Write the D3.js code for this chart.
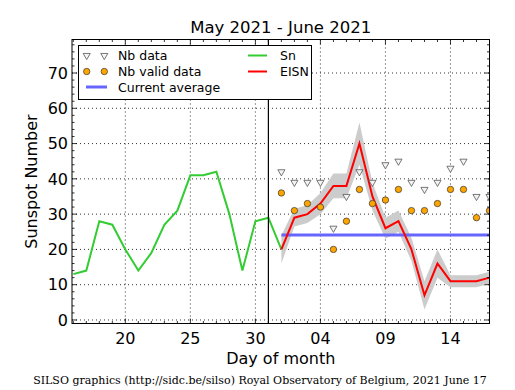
<!DOCTYPE html>
<html><head><meta charset="utf-8">
<script src="https://cdn.jsdelivr.net/npm/d3@7"></script>
<style>body{margin:0;background:#fff}svg{display:block}</style>
</head><body>
<script>
// ---- data ----
const snStart = "2021-05-16";
const snValues = [13,14,28,27,20,14,19,27,31,41,41,42,30,14,28,29,20];
const eisnStart = "2021-06-01";
const eisnValues = [20,29,30,33,38,38,50,35,26,28,20,7,16,11,11,11,12];
const eisnError = [4,2.5,2.5,3,3.5,3.5,6,4,3,3,3.3,4,4,1.7,1.7,1.7,1.7];
const nbData = [42,39,39,39,26,35,42,39,44,45,39,37,39,43,45,35,35];
const nbValid = [36,31,33,32,20,28,37,33,34,37,31,31,33,37,37,29,31];
const currentAverage = 24.1;
const yTicks = [0,10,20,30,40,50,60,70];
const xTickDays = ["2021-05-20","2021-05-25","2021-05-30","2021-06-04","2021-06-09","2021-06-14"];
const monthBoundary = "2021-05-31";
const titleText = "May 2021 - June 2021";
const footerText = "SILSO graphics (http://sidc.be/silso) Royal Observatory of Belgium, 2021 June 17";

const W = 515, H = 390;
const L = 72, R = 489.5, T = 39.5, B = 323.5;
const DAY = 864e5;
const parse = s => new Date(s + "T00:00:00Z");
const dayAt = (start, i) => new Date(parse(start).getTime() + i*DAY);

const x = d3.scaleUtc().domain([new Date(parse("2021-05-16").getTime() - 0.1*DAY), parse("2021-06-17")]).range([L, R]);
const y = d3.scaleLinear().domain([-1, 79.5]).range([B, T]);

const svg = d3.select("body").append("svg").attr("width", W).attr("height", H)
  .style("font-family", "DejaVu Sans");

svg.append("defs").append("clipPath").attr("id","clip").append("rect")
  .attr("x", L).attr("y", T).attr("width", R-L).attr("height", B-T);

// grid
const grid = svg.append("g").attr("stroke","#000").attr("stroke-width",0.8).attr("stroke-dasharray","1,3");
xTickDays.forEach(d => grid.append("line").attr("x1", x(parse(d))).attr("x2", x(parse(d))).attr("y1", T).attr("y2", B));
yTicks.forEach(v => grid.append("line").attr("x1", L).attr("x2", R).attr("y1", y(v)).attr("y2", y(v)));

const plot = svg.append("g").attr("clip-path","url(#clip)");

// band
const eisn = eisnValues.map((v,i) => ({d: dayAt(eisnStart,i), v, e: eisnError[i]}));
plot.append("path").datum(eisn)
  .attr("fill","#cccccc").attr("stroke","none")
  .attr("d", d3.area().x(d => x(d.d)).y0(d => y(d.v - d.e)).y1(d => y(d.v + d.e)));

// current average
plot.append("line").attr("x1", x(parse(eisnStart))).attr("x2", R)
  .attr("y1", y(currentAverage)).attr("y2", y(currentAverage))
  .attr("stroke","#6666ff").attr("stroke-width",3);

// Sn
const sn = snValues.map((v,i) => ({d: dayAt(snStart,i), v}));
plot.append("path").datum(sn).attr("fill","none").attr("stroke","#33cc33").attr("stroke-width",2)
  .attr("d", d3.line().x(d => x(d.d)).y(d => y(d.v)));

// EISN
plot.append("path").datum(eisn).attr("fill","none").attr("stroke","#ff0000").attr("stroke-width",2)
  .attr("d", d3.line().x(d => x(d.d)).y(d => y(d.v)));

// vertical month line
svg.append("line").attr("x1", x(parse(monthBoundary))).attr("x2", x(parse(monthBoundary)))
  .attr("y1", T).attr("y2", B).attr("stroke","#000").attr("stroke-width",1.2);

// markers
const tri = d3.symbol().type(d3.symbolTriangle).size(22);
plot.selectAll(".nb").data(nbData).join("path")
  .attr("d", tri)
  .attr("transform", (v,i) => `translate(${x(dayAt(eisnStart,i))},${y(v)}) rotate(180)`)
  .attr("fill","#f4f4f4").attr("stroke","#555").attr("stroke-width",0.8);
plot.selectAll(".nv").data(nbValid).join("circle")
  .attr("cx", (v,i) => x(dayAt(eisnStart,i))).attr("cy", v => y(v)).attr("r",3.2)
  .attr("fill","#ffa500").attr("stroke","#333").attr("stroke-width",0.7);

// frame
svg.append("rect").attr("x",L).attr("y",T).attr("width",R-L).attr("height",B-T)
  .attr("fill","none").attr("stroke","#000").attr("stroke-width",1);

// ticks (inward, all sides)
const tk = svg.append("g").attr("stroke","#000").attr("stroke-width",0.8);
const minorDays = d3.utcDay.range(parse("2021-05-16"), new Date(parse("2021-06-17").getTime()+1));
minorDays.forEach(d => {
  const xx = x(d);
  if (xx < L || xx > R) return;
  const major = xTickDays.includes(d3.utcFormat("%Y-%m-%d")(d));
  const len = major ? 5 : 2.5;
  tk.append("line").attr("x1",xx).attr("x2",xx).attr("y1",B).attr("y2",B-len);
  tk.append("line").attr("x1",xx).attr("x2",xx).attr("y1",T).attr("y2",T+len);
});
d3.range(0, 80, 2).forEach(v => {
  const yy = y(v);
  if (yy < T) return;
  const major = yTicks.includes(v);
  const len = major ? 5 : 2.5;
  tk.append("line").attr("x1",L).attr("x2",L+len).attr("y1",yy).attr("y2",yy);
  tk.append("line").attr("x1",R).attr("x2",R-len).attr("y1",yy).attr("y2",yy);
});

// tick labels
const tl = svg.append("g").attr("font-size",16).attr("fill","#000");
xTickDays.forEach(d => tl.append("text").attr("x", x(parse(d))).attr("y", B+20)
  .attr("text-anchor","middle").text(d3.utcFormat("%d")(parse(d))));
yTicks.forEach(v => tl.append("text").attr("x", L-4).attr("y", y(v)).attr("dy","0.36em")
  .attr("text-anchor","end").text(v));

// titles
svg.append("text").attr("x",(L+R)/2).attr("y",33).attr("text-anchor","middle").attr("font-size",16.5).text(titleText);
svg.append("text").attr("x",(L+R)/2).attr("y",364).attr("text-anchor","middle").attr("font-size",16).text("Day of month");
svg.append("text").attr("transform",`translate(37,${(T+B)/2}) rotate(-90)`).attr("text-anchor","middle").attr("font-size",16).text("Sunspot Number");
svg.append("text").attr("x",260).attr("y",384).attr("text-anchor","middle").attr("font-size",11)
  .attr("font-family","DejaVu Serif").text(footerText);

// legend
const lg = svg.append("g");
lg.append("rect").attr("x",78.5).attr("y",45.5).attr("width",233).attr("height",54)
  .attr("fill","#fff").attr("stroke","#000").attr("stroke-width",1);
const rows = [55.5, 71.5, 87];
const fs = 12.5;
[86.7,104.3].forEach(xx => {
  lg.append("path").attr("d",tri).attr("transform",`translate(${xx},${rows[0]}) rotate(180)`)
    .attr("fill","#f4f4f4").attr("stroke","#555").attr("stroke-width",0.8);
  lg.append("circle").attr("cx",xx).attr("cy",rows[1]).attr("r",3.2)
    .attr("fill","#ffa500").attr("stroke","#333").attr("stroke-width",0.7);
});
lg.append("line").attr("x1",86).attr("x2",107).attr("y1",rows[2]).attr("y2",rows[2]).attr("stroke","#6666ff").attr("stroke-width",3);
lg.append("line").attr("x1",248).attr("x2",267).attr("y1",rows[0]).attr("y2",rows[0]).attr("stroke","#33cc33").attr("stroke-width",2);
lg.append("line").attr("x1",248).attr("x2",267).attr("y1",rows[1]).attr("y2",rows[1]).attr("stroke","#ff0000").attr("stroke-width",2);
[["Nb data",118,rows[0]],["Nb valid data",118,rows[1]],["Current average",118,rows[2]],["Sn",280,rows[0]],["EISN",280,rows[1]]]
  .forEach(([t,xx,yy]) => lg.append("text").attr("x",xx).attr("y",yy).attr("dy","0.36em").attr("font-size",fs).text(t));
</script>
</body></html>
